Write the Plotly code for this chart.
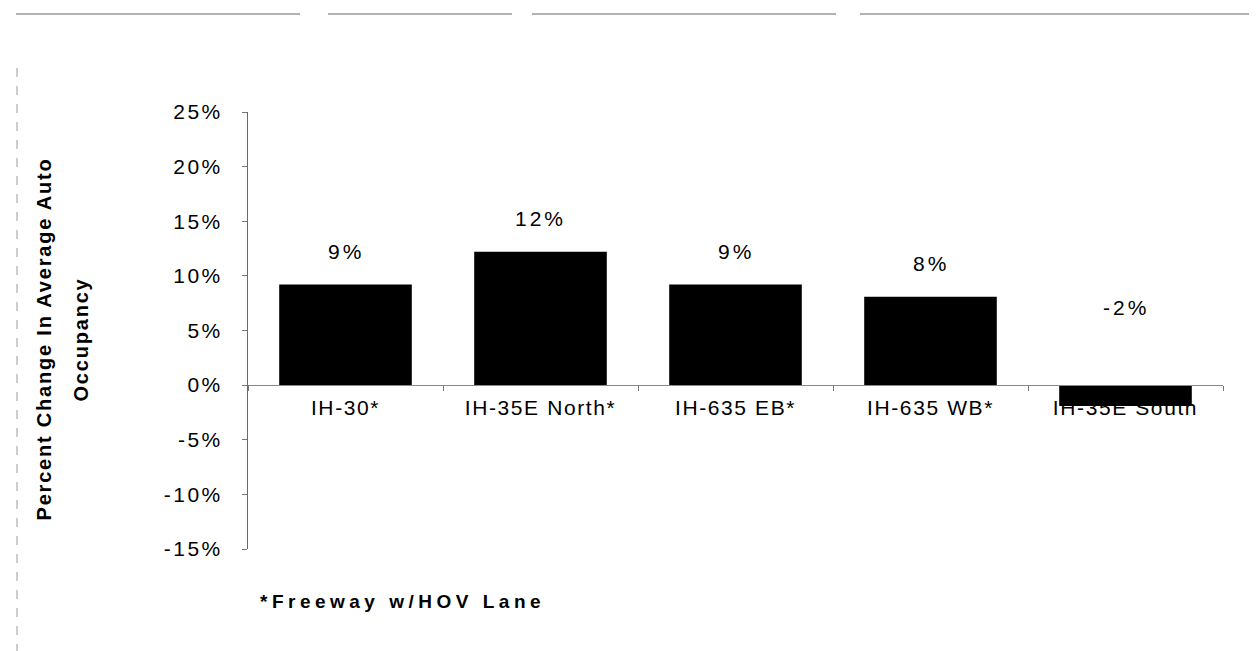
import plotly.graph_objects as go

categories = ["IH-30*", "IH-35E North*", "IH-635 EB*", "IH-635 WB*", "IH-35E South"]
values = [9.2, 12.2, 9.2, 8.1, -1.9]
value_labels = ["9%", "12%", "9%", "8%", "-2%"]
y_tick_values = [-15, -10, -5, 0, 5, 10, 15, 20, 25]
y_title_lines = ["Percent Change In Average Auto", "Occupancy"]
footnote = "*Freeway w/HOV Lane"

FONT = "Liberation Sans, Arial, sans-serif"


def spaced(text, px):
    return f'<span style="letter-spacing:{px}px">{text}</span>'


fig = go.Figure()
fig.add_trace(go.Bar(
    x=categories,
    y=values,
    marker=dict(color="#000000", line=dict(width=0)),
    hoverinfo="x+y",
))

# data labels
for cat, v, lab in zip(categories, values, value_labels):
    fig.add_annotation(
        x=cat, y=max(v, 0), xref="x", yref="y",
        text=spaced(lab, 3), showarrow=False,
        yanchor="middle", xanchor="center",
        yshift=33 if v > 0 else 78,
        font=dict(family=FONT, size=21, color="#000"),
    )

# y axis title (two lines)
fig.add_annotation(
    x=-0.209, y=0.48, xref="paper", yref="paper",
    text=spaced(y_title_lines[0], 1.8), showarrow=False, textangle=-90,
    xanchor="center", yanchor="middle",
    font=dict(family=FONT, size=20, color="#000", weight="bold"),
)
fig.add_annotation(
    x=-0.171, y=0.48, xref="paper", yref="paper",
    text=spaced(y_title_lines[1], 1.8), showarrow=False, textangle=-90,
    xanchor="center", yanchor="middle",
    font=dict(family=FONT, size=20, color="#000", weight="bold"),
)

# footnote
fig.add_annotation(
    x=10, y=593, xref="paper", yref="paper",
    text=spaced(footnote, 4.5), showarrow=False,
    xanchor="left", yanchor="middle",
    font=dict(family=FONT, size=19, color="#000", weight="bold"),
)

fig.update_layout(
    width=1257, height=651,
    margin=dict(l=240, r=42, t=104, b=110, autoexpand=False),
    paper_bgcolor="white", plot_bgcolor="white",
    showlegend=False,
    bargap=0.32,
    xaxis=dict(
        type="category",
        anchor="free", position=15 / 40,
        showline=True, linecolor="#8a8a8a", linewidth=1,
        ticks="outside", ticklen=5, tickcolor="#777", tickson="boundaries",
        tickvals=categories,
        ticktext=[spaced(c, 1.6) for c in categories],
        tickfont=dict(family=FONT, size=21, color="#000"),
        ticklabelstandoff=4,
        showgrid=False, zeroline=False,
        automargin=False,
    ),
    yaxis=dict(
        range=[-15, 25],
        tickvals=y_tick_values,
        ticktext=[spaced(f"{v}%", 2.5) for v in y_tick_values],
        tickfont=dict(family=FONT, size=21, color="#000"),
        ticks="outside", ticklen=5, tickcolor="#777",
        showline=True, linecolor="#6a6a6a", linewidth=1,
        showgrid=False, zeroline=False,
        ticklabelstandoff=15,
        automargin=False,
    ),
)

# fix footnote to pixel-ish paper coordinates
plot_w = 1257 - 240 - 42
plot_h = 651 - 104 - 110
fig.layout.annotations[-1].update(x=(250 - 240) / plot_w, y=(651 - 110 - 593) / plot_h)

# scanned page frame lines
frame_color = "#9a9a9a"
for x0, x1 in [(8, 292), (320, 504), (524, 828), (852, 1257)]:
    fig.add_shape(type="line", xref="paper", yref="paper",
                  x0=(x0 - 240) / plot_w, x1=(x1 - 240) / plot_w,
                  y0=(651 - 110 - 6) / plot_h, y1=(651 - 110 - 6) / plot_h,
                  line=dict(color=frame_color, width=1.5))
fig.add_shape(type="line", xref="paper", yref="paper",
              x0=(9 - 240) / plot_w, x1=(9 - 240) / plot_w,
              y0=(651 - 110 - 60) / plot_h, y1=(651 - 110 - 651) / plot_h,
              line=dict(color=frame_color, width=1, dash="dash"))
fig.add_shape(type="line", xref="paper", yref="paper",
              x0=(1255 - 240) / plot_w, x1=(1255 - 240) / plot_w,
              y0=(651 - 110 - 530) / plot_h, y1=(651 - 110 - 651) / plot_h,
              line=dict(color="#c8c8c8", width=1, dash="dot"))

fig.write_html("out.html")
